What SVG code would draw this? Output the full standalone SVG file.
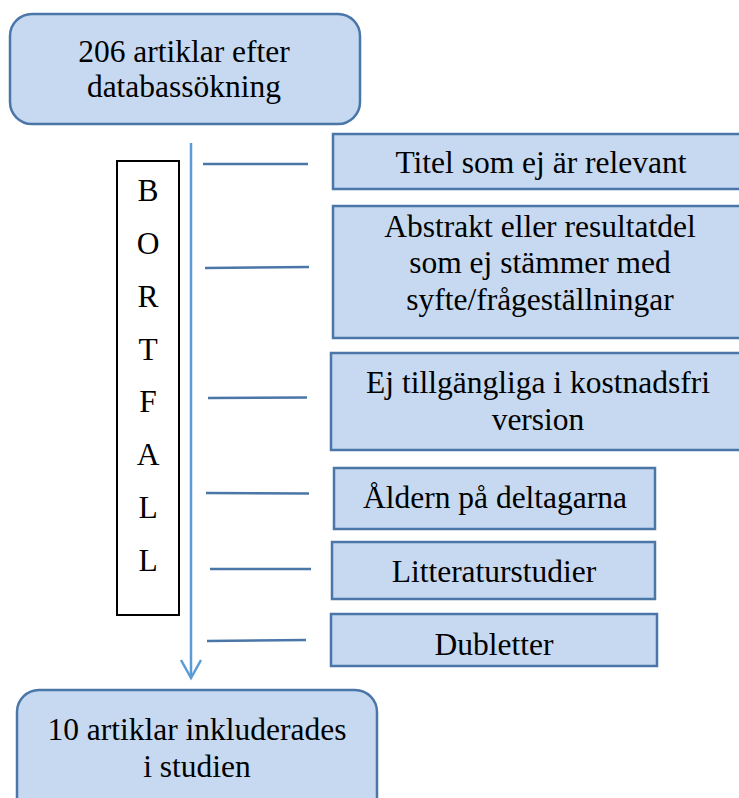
<svg xmlns="http://www.w3.org/2000/svg" width="739" height="798" viewBox="0 0 739 798">
<style>
.box{fill:#c6d9f1;stroke:#4a76a8;stroke-width:2.5}
.t{font-size:31.5px;fill:#000;text-anchor:middle}
.c{stroke:#4a76a8;stroke-width:2.5;fill:none}
.main{stroke:#5b9bd5;stroke-width:2.5;fill:none}
</style>
<rect width="739" height="798" fill="#fff"/>
<g font-family="Liberation Serif, Times New Roman, serif">
<g id="start">
<rect class="box" x="10" y="14" width="350" height="110" rx="22"/>
<text class="t" x="184" y="62">206 artiklar efter</text>
<text class="t" x="184" y="97">databassökning</text>
</g>
<g id="bortfall">
<rect x="117" y="161" width="62" height="454" fill="#fff" stroke="#000" stroke-width="2"/>
<text class="t" x="148" y="201">B</text>
<text class="t" x="148" y="254">O</text>
<text class="t" x="148" y="307">R</text>
<text class="t" x="148" y="360">T</text>
<text class="t" x="148" y="412">F</text>
<text class="t" x="148" y="465">A</text>
<text class="t" x="148" y="518">L</text>
<text class="t" x="148" y="571">L</text>
</g>
<g id="titel">
<rect class="box" x="333" y="134" width="415" height="55"/>
<text class="t" x="541" y="173">Titel som ej är relevant</text>
</g>
<g id="abstrakt">
<rect class="box" x="333" y="206" width="415" height="132"/>
<text class="t" x="540" y="237">Abstrakt eller resultatdel</text>
<text class="t" x="540" y="273">som ej stämmer med</text>
<text class="t" x="540" y="310">syfte/frågeställningar</text>
</g>
<g id="ej">
<rect class="box" x="331" y="353" width="415" height="97"/>
<text class="t" x="538" y="393">Ej tillgängliga i kostnadsfri</text>
<text class="t" x="538" y="430">version</text>
</g>
<g id="aldern">
<rect class="box" x="334" y="468" width="321" height="61"/>
<text class="t" x="495" y="508">Åldern på deltagarna</text>
</g>
<g id="litteratur">
<rect class="box" x="332" y="542" width="323" height="57"/>
<text class="t" x="494" y="582">Litteraturstudier</text>
</g>
<g id="dubletter">
<rect class="box" x="331" y="614" width="326" height="52"/>
<text class="t" x="494" y="655">Dubletter</text>
</g>
<g id="end">
<rect class="box" x="17" y="690" width="360" height="130" rx="22"/>
<text class="t" x="197" y="740">10 artiklar inkluderades</text>
<text class="t" x="197" y="777">i studien</text>
</g>
</g>
<g id="connectors">
<line class="main" x1="191" y1="143" x2="191" y2="677"/>
<polyline class="main" points="181,660 191,678 201,660"/>
<line class="c" x1="203" y1="164" x2="308" y2="164"/>
<line class="c" x1="205" y1="268" x2="309" y2="267"/>
<line class="c" x1="208" y1="398" x2="307" y2="397.5"/>
<line class="c" x1="206" y1="493" x2="309" y2="493.5"/>
<line class="c" x1="210" y1="569" x2="311" y2="569"/>
<line class="c" x1="207" y1="641" x2="306" y2="640"/>
</g>
</svg>
